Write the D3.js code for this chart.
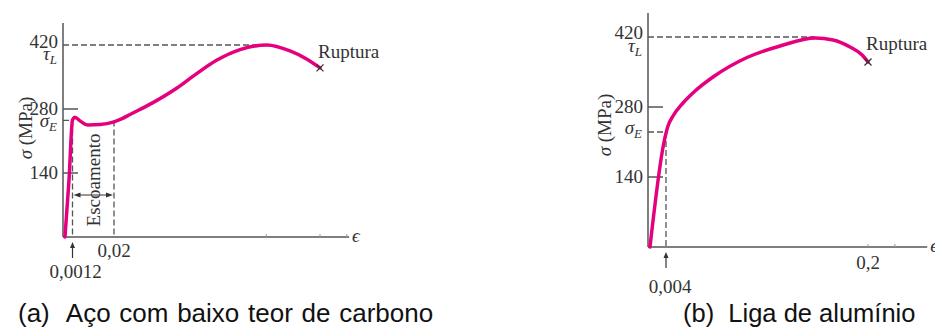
<!DOCTYPE html>
<html><head><meta charset="utf-8">
<script src="https://cdn.jsdelivr.net/npm/d3@7/dist/d3.min.js"></script>
<style>
html,body{margin:0;padding:0;background:#fff;}
svg{display:block;}
text{font-family:"Liberation Serif","Times New Roman",serif;fill:#333;}
.cap{font-family:"Liberation Sans",Arial,sans-serif;fill:#111;}
</style></head>
<body>
<svg id="c" width="935" height="329"></svg>
<script>
// ---------- DATA ----------
// (a) low-carbon steel: strain (ε) and stress σ (MPa)
const steelStrain = [0.00025, 0.00076, 0.0012, 0.0023, 0.0046, 0.0082, 0.0137, 0.0200, 0.0290, 0.0379, 0.0635, 0.0903, 0.1127, 0.1350, 0.1607, 0.1908, 0.2165, 0.2355, 0.2500];
const steelStress = [0, 125, 256, 262, 254, 245, 246, 252, 259, 268, 294, 326, 358, 387, 410, 420, 407, 389, 370];
// (b) aluminium alloy
const alumStrain = [0.00044, 0.00356, 0.00594, 0.0108, 0.0205, 0.0322, 0.0496, 0.0826, 0.1147, 0.1487, 0.1661, 0.1826, 0.1943, 0.2000];
const alumStress = [0, 210, 242, 262, 288, 312, 340, 379, 402, 418, 414, 400, 384, 370];

const yTickValues = [140, 280];
const yTickLabels = ["140", "280"];
const ultimateStress = 420;
const ultimateLabel = "420";
const steelYieldStress = 255;
const alumYieldStress = 230;
const steelXTicks = [0.0012, 0.02];
const steelXTickLabels = ["0,0012", "0,02"];
const steelMinorTicks = [0.19, 0.25, 0.28];
const alumXTicks = [0.004, 0.2];
const alumXTickLabels = ["0,004", "0,2"];
const alumMinorTicks = [0.2, 0.226];
const yieldRange = [0.0012, 0.02];
const captions = ["(a)  Aço com baixo teor de carbono", "(b)  Liga de alumínio"];
const yieldRangeLabel = "Escoamento";
const ruptureLabel = "Ruptura";

// ---------- DRAW ----------
const svg = d3.select("#c");
const curveColor = "#e5007e";
const axisColor = "#555";
const FS = 19;

function panel(o) {
  const g = svg.append("g");
  const x = d3.scaleLinear().domain(o.xDomain).range(o.xRange);
  const y = d3.scaleLinear().domain([0, 420]).range(o.yRange);
  const x0 = x(0), y0 = y(0);
  const top = y(o.yMax), right = x(o.xMax);

  // axes
  g.append("line").attr("x1", x0).attr("x2", x0).attr("y1", top).attr("y2", y0)
    .attr("stroke", axisColor).attr("stroke-width", 1.5);
  g.append("line").attr("x1", x0).attr("x2", right).attr("y1", y0).attr("y2", y0)
    .attr("stroke", axisColor).attr("stroke-width", 1.5);

  // y ticks
  yTickValues.forEach((v, i) => {
    g.append("line").attr("x1", x0).attr("x2", x0 + 15).attr("y1", y(v)).attr("y2", y(v))
      .attr("stroke", axisColor).attr("stroke-width", 1.5);
    g.append("text").attr("x", x0 - 5).attr("y", y(v) + 6).attr("text-anchor", "end")
      .attr("font-size", FS).text(yTickLabels[i]);
  });
  g.append("text").attr("x", x0 - 5).attr("y", y(ultimateStress) + o.ultDy).attr("text-anchor", "end")
    .attr("font-size", FS).text(ultimateLabel);

  // τ_L
  const tl = g.append("text").attr("x", x0 - 6).attr("y", y(ultimateStress) + o.tauDy)
    .attr("text-anchor", "end").attr("font-size", FS).attr("font-style", "italic");
  tl.append("tspan").text("τ");
  tl.append("tspan").attr("dy", 4).attr("font-size", 13).text("L");

  // σ_E
  const se = g.append("text").attr("x", x0 - 6).attr("y", y(o.yieldStress) + o.sigmaDy)
    .attr("text-anchor", "end").attr("font-size", FS).attr("font-style", "italic");
  se.append("tspan").text("σ");
  se.append("tspan").attr("dy", 4).attr("font-size", 13).text("E");

  // y title
  const yt = g.append("text").attr("transform", `translate(${o.yTitle[0]},${o.yTitle[1]}) rotate(-90)`)
    .attr("text-anchor", "middle").attr("dominant-baseline", "central").attr("font-size", FS);
  yt.append("tspan").attr("font-style", "italic").text("σ");
  yt.append("tspan").text(" (MPa)");

  // ε
  g.append("text").attr("x", right + 3).attr("y", y0 + 5)
    .attr("font-size", FS).attr("font-style", "italic").text("ϵ");

  // minor ticks
  o.minor.forEach(v => {
    g.append("line").attr("x1", x(v)).attr("x2", x(v)).attr("y1", y0 - 3).attr("y2", y0)
      .attr("stroke", "#999").attr("stroke-width", 1);
  });

  // dashed guides
  const dash = (x1, y1, x2, y2) => g.append("line").attr("x1", x1).attr("y1", y1).attr("x2", x2).attr("y2", y2)
    .attr("stroke", "#555").attr("stroke-width", 1.3).attr("stroke-dasharray", "6,3");
  const iMax = d3.maxIndex(o.stress);
  dash(x0, y(ultimateStress), x(o.strain[iMax]), y(ultimateStress));
  dash(x0, y(o.yieldStress), x(o.yieldStrain), y(o.yieldStress));
  dash(x(o.yieldStrain), y(o.yieldStress), x(o.yieldStrain), y0);
  if (o.flowEnd) dash(x(o.flowEnd), y(o.flowEndStress), x(o.flowEnd), y0);

  // curve
  const pts = o.strain.map((s, i) => [s, o.stress[i]]);
  g.append("path").datum(pts)
    .attr("d", d3.line().x(d => x(d[0])).y(d => y(d[1])).curve(d3.curveMonotoneX))
    .attr("fill", "none").attr("stroke", curveColor).attr("stroke-width", 3.5)
    .attr("stroke-linecap", "round").attr("stroke-linejoin", "round");

  // rupture marker
  const last = pts[pts.length - 1];
  const rx = x(last[0]), ry = y(last[1]);
  g.append("path").attr("d", `M${rx - 3.5},${ry - 3.5}L${rx + 3.5},${ry + 3.5}M${rx - 3.5},${ry + 3.5}L${rx + 3.5},${ry - 3.5}`)
    .attr("stroke", "#333").attr("stroke-width", 1.3);
  g.append("text").attr("x", rx - 2).attr("y", ry + o.rupDy).attr("font-size", FS).text(ruptureLabel);

  // x tick labels
  o.xTicks.forEach((v, i) => {
    if (i === 0) {
      g.append("line").attr("x1", x(v)).attr("x2", x(v)).attr("y1", y0 + o.arrowLen + 6).attr("y2", y0 + 8)
        .attr("stroke", "#333").attr("stroke-width", 1.2);
      g.append("path").attr("d", `M${x(v)},${y0 + 5}L${x(v) - 2.5},${y0 + 11}L${x(v) + 2.5},${y0 + 11}Z`).attr("fill", "#333");
    }
    g.append("text").attr("x", x(v) + o.xLabDx[i]).attr("y", y0 + o.xLabDy[i] + 6).attr("text-anchor", "middle")
      .attr("font-size", FS).text(o.xTickLabels[i]);
  });

  // yield range arrow
  if (o.flowEnd) {
    const ya = o.flowArrowY;
    const xa = x(yieldRange[0]) + 1, xb = x(yieldRange[1]) - 1;
    g.append("line").attr("x1", xa + 4).attr("x2", xb - 4).attr("y1", ya).attr("y2", ya).attr("stroke", "#333").attr("stroke-width", 1);
    g.append("path").attr("d", `M${xa},${ya}L${xa + 7},${ya - 2.5}L${xa + 7},${ya + 2.5}Z`).attr("fill", "#333");
    g.append("path").attr("d", `M${xb},${ya}L${xb - 7},${ya - 2.5}L${xb - 7},${ya + 2.5}Z`).attr("fill", "#333");
    g.append("text").attr("transform", `translate(${(xa + xb) / 2},${o.flowTextY}) rotate(-90)`)
      .attr("text-anchor", "middle").attr("dominant-baseline", "central").attr("font-size", FS).text(yieldRangeLabel);
  }
}

panel({
  xDomain: [0, 0.0012, 0.02, 0.25], xRange: [63, 72.5, 114, 320], xMax: 0.2825,
  yRange: [237, 45], yMax: 468,
  strain: steelStrain, stress: steelStress,
  yieldStress: steelYieldStress, yieldStrain: yieldRange[0],
  flowEnd: yieldRange[1], flowEndStress: steelYieldStress,
  flowArrowY: 195, flowTextY: 180,
  xTicks: steelXTicks, xTickLabels: steelXTickLabels, xLabDx: [3, 0], xLabDy: [35, 14],
  arrowLen: 15, minor: steelMinorTicks,
  ultDy: 3, tauDy: 15, sigmaDy: 7, yTitle: [25, 128], rupDy: -10
});
panel({
  xDomain: [0, 0.004, 0.2, 0.26], xRange: [648, 666, 868, 930], xMax: 0.2573,
  yRange: [247, 37], yMax: 468,
  strain: alumStrain, stress: alumStress,
  yieldStress: alumYieldStress, yieldStrain: alumXTicks[0],
  flowEnd: null,
  xTicks: alumXTicks, xTickLabels: alumXTickLabels, xLabDx: [4, 0], xLabDy: [40, 16],
  arrowLen: 15, minor: alumMinorTicks,
  ultDy: 2, tauDy: 15, sigmaDy: 2, yTitle: [604, 125], rupDy: -12
});

// captions
svg.append("text").attr("class", "cap").attr("x", 18).attr("y", 322).attr("font-size", 26)
  .attr("word-spacing", 1.5)
  .attr("xml:space", "preserve").style("white-space", "pre").text(captions[0]);
svg.append("text").attr("class", "cap").attr("x", 683).attr("y", 322).attr("font-size", 25.5)
  .attr("xml:space", "preserve").style("white-space", "pre").text(captions[1]);
</script>
</body></html>
